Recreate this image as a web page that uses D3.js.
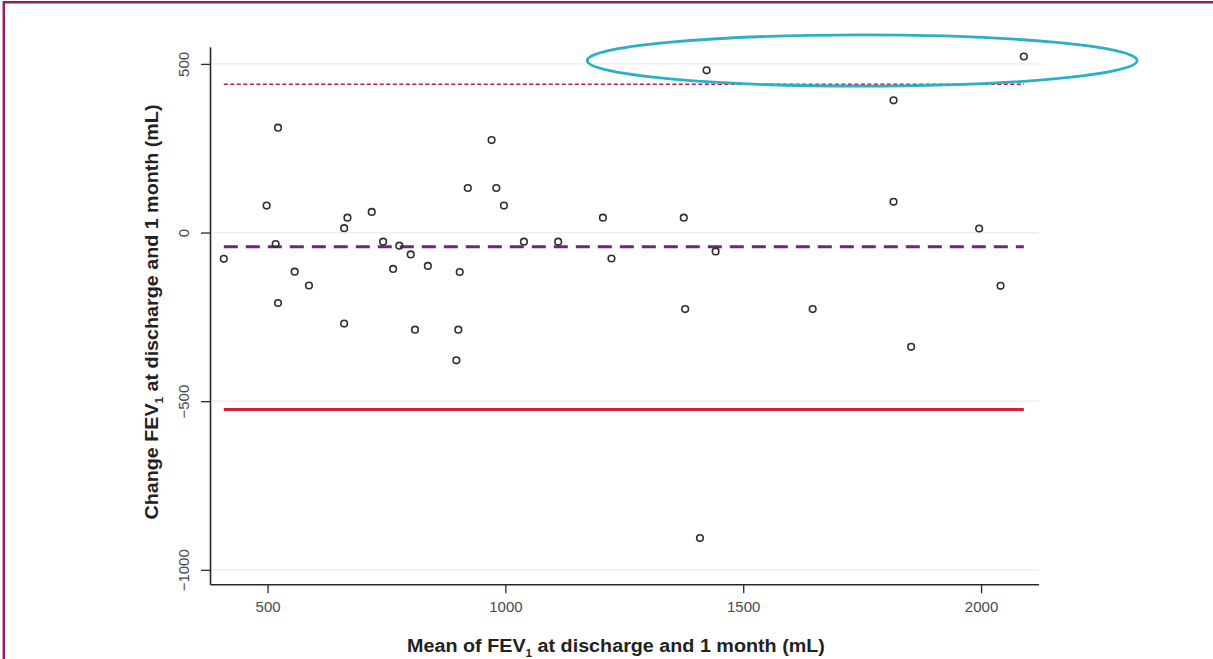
<!DOCTYPE html>
<html>
<head>
<meta charset="utf-8">
<script src="https://cdn.jsdelivr.net/npm/d3@7"></script>
<style>
  html, body { margin: 0; padding: 0; background: #fff; }
  svg { display: block; }
  text { font-family: "Liberation Sans", Arial, sans-serif; }
</style>
</head>
<body>
<svg id="chart" width="1213" height="659"></svg>
<script>
// Bland–Altman data: mean of the two FEV1 measurements vs. their difference (mL)
const meanFEV1 = [408, 498, 517, 522, 522, 557, 587, 661, 661, 668, 719, 743, 764, 777, 801, 810,
                  837, 897, 901, 904, 921, 971, 981, 997, 1039, 1111, 1205, 1223, 1375, 1378,
                  1409, 1423, 1442, 1646, 1816, 1816, 1853, 1996, 2041, 2090];
const changeFEV1 = [-78, 80, -34, 311, -209, -116, -157, 13, -270, 44, 61, -27, -108, -39, -65, -288,
                    -99, -379, -288, -117, 132, 274, 132, 80, -27, -27, 44, -77, 44, -227,
                    -906, 481, -56, -227, 392, 91, -339, 12, -158, 522];

// Bias and 95% limits of agreement
const meanDifference = -42;
const upperLimit = 440;
const lowerLimit = -525;

// Axis ticks
const xTicks = [500, 1000, 1500, 2000];
const yTicks = [-1000, -500, 0, 500];

// Highlight ellipse around the high-difference points (data units)
const highlightCentre = [1750, 510];
const highlightRadii = [578, 76];

const svg = d3.select("#chart");

const x = d3.scaleLinear().domain([379, 2121]).range([210, 1038.6]);
const y = d3.scaleLinear().domain([-1043, 551]).range([584.3, 46.7]);

// Outer frame (top and left edges)
svg.append("line").attr("x1", 3.8).attr("x2", 1213).attr("y1", 2.2).attr("y2", 2.2)
  .attr("stroke", "#9a1a6a").attr("stroke-width", 2.5);
svg.append("line").attr("x1", 3.8).attr("x2", 3.8).attr("y1", 1).attr("y2", 659)
  .attr("stroke", "#9a1a6a").attr("stroke-width", 2.5);

// Faint horizontal gridlines
svg.append("g").selectAll("line").data(yTicks).join("line")
  .attr("x1", x.range()[0] + 2).attr("x2", x.range()[1])
  .attr("y1", d => y(d)).attr("y2", d => y(d))
  .attr("stroke", "#ececec").attr("stroke-width", 1.2);

// Axes
const fmt = d3.format("d");
const xAxis = svg.append("g").attr("transform", `translate(0,${y.range()[0]})`)
  .call(d3.axisBottom(x).tickValues(xTicks).tickFormat(fmt).tickSize(9).tickPadding(8).tickSizeOuter(0));
const yAxis = svg.append("g").attr("transform", `translate(${x.range()[0]},0)`)
  .call(d3.axisLeft(y).tickValues(yTicks).tickFormat(fmt).tickSize(9).tickPadding(8).tickSizeOuter(0));

[xAxis, yAxis].forEach(g => {
  g.select(".domain").attr("stroke", "#2a2a2a").attr("stroke-width", 1.6);
  g.selectAll(".tick line").attr("stroke", "#2a2a2a").attr("stroke-width", 1.3);
  g.selectAll(".tick text").attr("fill", "#4a4a4a").attr("font-size", 15)
    .attr("font-family", "'Liberation Sans', Arial, sans-serif");
});
xAxis.selectAll(".tick text").attr("dy", "0.71em");
// Vertical y tick labels
yAxis.selectAll(".tick text")
  .attr("text-anchor", "middle").attr("dy", 0).attr("x", 0)
  .attr("transform", "translate(-21,0) rotate(-90)");

const xMin = d3.min(meanFEV1), xMax = d3.max(meanFEV1);

// Upper limit of agreement (dotted)
svg.append("line")
  .attr("x1", x(xMin)).attr("x2", x(xMax))
  .attr("y1", y(upperLimit)).attr("y2", y(upperLimit))
  .attr("stroke", "#b3223e").attr("stroke-width", 1.5).attr("stroke-dasharray", "4,2.5");

// Mean difference (dashed)
svg.append("line")
  .attr("x1", x(xMin)).attr("x2", x(xMax))
  .attr("y1", y(meanDifference)).attr("y2", y(meanDifference))
  .attr("stroke", "#6c2a74").attr("stroke-width", 3).attr("stroke-dasharray", "14,8");

// Lower limit of agreement (solid)
svg.append("line")
  .attr("x1", x(xMin)).attr("x2", x(xMax))
  .attr("y1", y(lowerLimit)).attr("y2", y(lowerLimit))
  .attr("stroke", "#d2213f").attr("stroke-width", 3);

// Points
svg.append("g").selectAll("circle").data(meanFEV1.map((m, i) => [m, changeFEV1[i]])).join("circle")
  .attr("cx", d => x(d[0])).attr("cy", d => y(d[1])).attr("r", 3.3)
  .attr("fill", "none").attr("stroke", "#2e2e2e").attr("stroke-width", 1.6);

// Highlight ellipse
svg.append("ellipse")
  .attr("cx", x(highlightCentre[0])).attr("cy", y(highlightCentre[1]))
  .attr("rx", x(highlightCentre[0] + highlightRadii[0]) - x(highlightCentre[0]))
  .attr("ry", y(highlightCentre[1]) - y(highlightCentre[1] + highlightRadii[1]))
  .attr("fill", "none").attr("stroke", "#2bb0c6").attr("stroke-width", 2.8);

// Axis titles with subscript
function title(g, before, after, width) {
  const t = g.append("text").attr("font-size", 18.5).attr("font-weight", "bold")
    .attr("fill", "#222").attr("text-anchor", "middle");
  t.append("tspan").text(before);
  t.append("tspan").attr("font-size", 11).attr("dy", 5).text("1");
  t.append("tspan").attr("dy", -5).text(after);
  const len = t.node().getComputedTextLength();
  t.attr("transform", `scale(${width / len},1)`);
  return t;
}
const xt = svg.append("g").attr("transform", "translate(616,652)");
title(xt, "Mean of FEV", " at discharge and 1 month (mL)", 418);
const yt = svg.append("g").attr("transform", "translate(158,312) rotate(-90)");
title(yt, "Change FEV", " at discharge and 1 month (mL)", 415);
</script>
</body>
</html>
